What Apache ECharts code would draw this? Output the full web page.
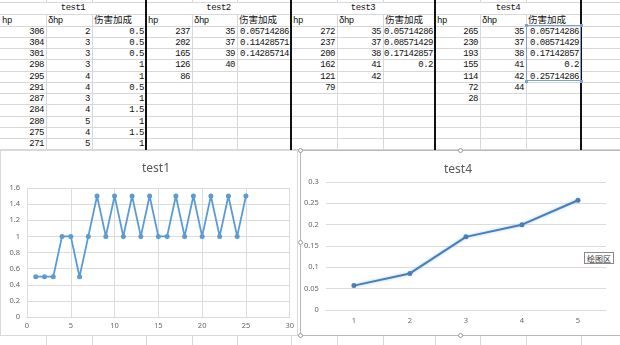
<!DOCTYPE html>
<html><head><meta charset="utf-8">
<script src="https://cdn.jsdelivr.net/npm/echarts@6/dist/echarts.min.js"></script>
<style>
html,body{margin:0;padding:0;background:#fff;width:620px;height:345px;overflow:hidden;position:relative;}
.hl{position:absolute;left:0;width:620px;height:1px;background:#d8d8d8;}
.vl{position:absolute;width:1px;background:#d8d8d8;}
.tk{position:absolute;width:2px;background:#111;}
.c{position:absolute;font-family:"Liberation Mono",monospace;font-size:9px;letter-spacing:-0.5px;color:#111;white-space:nowrap;line-height:11px;}
.zh{font-family:"Noto Sans CJK SC",sans-serif;font-size:9.5px;letter-spacing:0;}
.chart{position:absolute;background:#fff;box-sizing:border-box;}
.hd{position:absolute;width:5px;height:5px;border:1px solid #9a9a9a;background:#fff;border-radius:50%;box-sizing:border-box;}
</style></head>
<body>
<div id="sheet"></div>
<div id="c1" class="chart" style="left:0;top:150px;width:298px;height:186px;border:1px solid #d9d9d9;"></div>
<div id="c4" class="chart" style="left:300px;top:150px;width:322px;height:186px;border:1px solid #b8b8b8;"></div>
<div id="tip" style="position:absolute;left:584px;top:252px;width:30px;height:12px;border:1px solid #888;background:#fff;font-family:'Noto Sans CJK SC',sans-serif;font-size:8px;line-height:11px;text-align:center;color:#333;box-sizing:border-box;">绘图区</div>
<script>
// ---- spreadsheet data ----
var blockTitles = ["test1","test2","test3","test4"];
var headers = ["hp","δhp","伤害加成"];
var test1Hp = [306,304,301,298,295,291,287,284,280,275,271];
var test1Dhp = [2,3,3,3,4,4,3,4,5,4,5];
var test1Dmg = ["0.5","0.5","0.5","1","1","0.5","1","1.5","1","1.5","1"];
var test2Hp = [237,202,165,126,86];
var test2Dhp = [35,37,39,40];
var test2Dmg = ["0.05714286","0.11428571","0.14285714"];
var test3Hp = [272,237,200,162,121,79];
var test3Dhp = [35,37,38,41,42];
var test3Dmg = ["0.05714286","0.08571429","0.17142857","0.2"];
var test4Hp = [265,230,193,155,114,72,28];
var test4Dhp = [35,37,38,41,42,44];
var test4Dmg = ["0.05714286","0.08571429","0.17142857","0.2","0.25714286"];

// ---- chart data ----
var chart1Title = "test1";
var chart1X = [1,2,3,4,5,6,7,8,9,10,11,12,13,14,15,16,17,18,19,20,21,22,23,24,25];
var chart1Y = [0.5,0.5,0.5,1,1,0.5,1,1.5,1,1.5,1,1.5,1,1.5,1,1,1.5,1,1.5,1,1.5,1,1.5,1,1.5];
var chart4Title = "test4";
var chart4Cats = ["1","2","3","4","5"];
var chart4Y = [0.05714286,0.08571429,0.17142857,0.2,0.25714286];

// ---- build sheet ----
var sheet = document.getElementById('sheet');
var colX = [0,46,92,146,192,237,291,337,383,435,480,526,581,620];
var rowTop = 25.5, rowH = 11.27;
function add(cls, style, text){var d=document.createElement('div');d.className=cls;d.setAttribute('style',style);if(text!==undefined)d.textContent=text;sheet.appendChild(d);return d;}
var hLines=[2,14];
for(var k=0;k<=11;k++) hLines.push(rowTop+k*rowH);
hLines.push(335);
hLines.forEach(function(y){add('hl','top:'+y+'px');});
colX.forEach(function(x,i){
  if(i===0||i===colX.length-1) return;
  var title = (i%3===0);
  if(!title){ add('vl','left:'+x+'px;top:0;height:2px'); add('vl','left:'+x+'px;top:14px;height:136px'); }
  add('vl','left:'+x+'px;top:335px;height:10px');
});
[146,291,435,581].forEach(function(x){add('tk','left:'+(x-1)+'px;top:0;height:150px');});
var blocks=[[test1Hp,test1Dhp,test1Dmg],[test2Hp,test2Dhp,test2Dmg],[test3Hp,test3Dhp,test3Dmg],[test4Hp,test4Dhp,test4Dmg]];
blocks.forEach(function(b,bi){
  var x0=colX[bi*3], x3=colX[bi*3+3];
  add('c','left:'+x0+'px;width:'+(x3-x0)+'px;top:3px;text-align:center',blockTitles[bi]);
  for(var j=0;j<3;j++){
    var cx=colX[bi*3+j];
    var d=add('c'+(j===2?' zh':''),'left:'+(cx+2)+'px;top:'+(j===2?14:15.5)+'px',headers[j]);
    if(j===2){d.style.fontSize='9.5px';}
    b[j].forEach(function(v,r){
      var right=620-colX[bi*3+j+1]+2;
      add('c','right:'+right+'px;top:'+(rowTop+r*rowH+1)+'px;text-align:right',String(v));
    });
  }
});
// selection box on test4 dmg column
add('', 'position:absolute;left:526px;top:25px;width:55px;height:56px;border:1px solid #7f9fd8;box-sizing:border-box');
[[526,25],[581,25],[526,81],[581,81]].forEach(function(p){add('','position:absolute;left:'+(p[0]-1.5)+'px;top:'+(p[1]-1.5)+'px;width:3px;height:3px;background:#7f9fd8');});
// chart handles
[[300,150],[460,150],[300,242],[300,335],[460,335]].forEach(function(p){var d=document.createElement('div');d.className='hd';d.style.left=(p[0]-2.5)+'px';d.style.top=(p[1]-2.5)+'px';d.style.zIndex=5;document.body.appendChild(d);});

var axisFont={color:'#666',fontSize:7.5,fontFamily:'Noto Sans'};
var gridLine={lineStyle:{color:'#dcdcdc',width:1}};

var c1=echarts.init(document.getElementById('c1'),null,{renderer:'canvas'});
c1.setOption({
  animation:false,
  title:{text:chart1Title,left:150,top:7,textAlign:'center',textStyle:{color:'#595959',fontSize:12,fontWeight:'normal',fontFamily:'Noto Sans'}},
  grid:{left:26,right:5,top:37,bottom:18},
  xAxis:{type:'value',min:0,max:30,interval:5,axisLine:{show:true,lineStyle:{color:'#d9d9d9'}},axisTick:{show:false},splitLine:gridLine,axisLabel:Object.assign({margin:5},axisFont)},
  yAxis:{type:'value',min:0,max:1.6,interval:0.2,axisLine:{show:false},axisTick:{show:false},splitLine:gridLine,axisLabel:Object.assign({margin:7},axisFont)},
  series:[{type:'line',data:chart1X.map(function(x,i){return [x,chart1Y[i]];}),symbol:'circle',symbolSize:5,showSymbol:true,
    lineStyle:{color:'#5b9bd5',width:1.8},itemStyle:{color:'#5b9bd5'}}]
});

var c4=echarts.init(document.getElementById('c4'),null,{renderer:'canvas'});
c4.setOption({
  animation:false,
  title:{text:chart4Title,left:152,top:8,textAlign:'center',textStyle:{color:'#595959',fontSize:12,fontWeight:'normal',fontFamily:'Noto Sans'}},
  grid:{left:20,right:15,top:31,bottom:25},
  xAxis:{type:'category',data:chart4Cats,boundaryGap:true,axisLine:{show:true,lineStyle:{color:'#d9d9d9'}},axisTick:{show:false},axisLabel:Object.assign({margin:7},axisFont)},
  yAxis:{type:'value',min:0,max:0.3,interval:0.05,axisLine:{show:false},axisTick:{show:false},splitLine:gridLine,axisLabel:Object.assign({margin:7},axisFont)},
  series:[{type:'line',data:chart4Y,symbol:'circle',symbolSize:5,
    lineStyle:{color:'#4a7eb6',width:2,shadowColor:'rgba(120,180,230,0.7)',shadowBlur:3},itemStyle:{color:'#4a7eb6'}}]
});
</script>
</body></html>
